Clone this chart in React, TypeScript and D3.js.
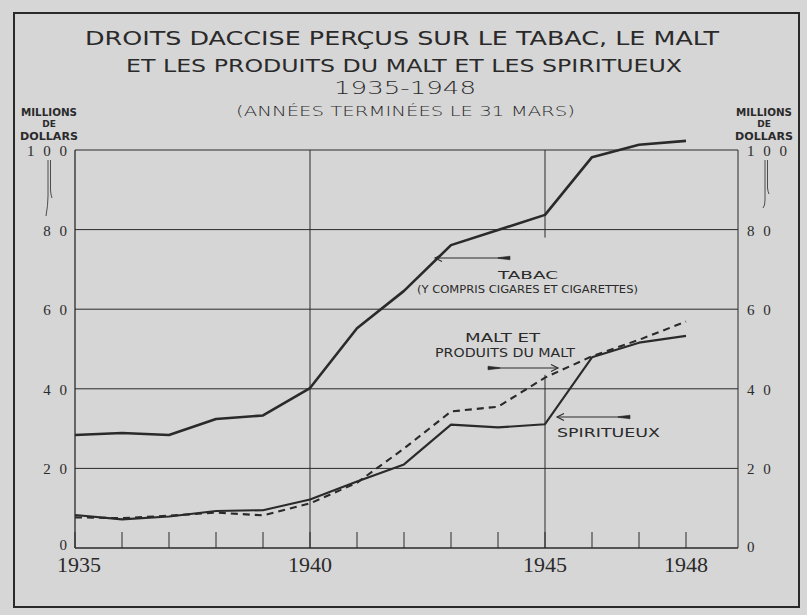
import React from "react";
import * as d3 from "d3";

// values (millions of dollars, years ended 31 March)
const years = [1935, 1936, 1937, 1938, 1939, 1940, 1941, 1942, 1943, 1944, 1945, 1946, 1947, 1948];
const tabac = [28.4, 28.9, 28.4, 32.4, 33.3, 40.2, 55.2, 64.6, 76.1, 79.9, 83.7, 98.2, 101.3, 102.3];
const malt = [7.7, 7.5, 8.1, 8.9, 8.2, 11.2, 16.4, 25.0, 34.3, 35.5, 42.8, 48.2, 52.3, 56.9];
const spiritueux = [8.3, 7.2, 7.9, 9.3, 9.5, 12.2, 16.7, 21.0, 31.0, 30.3, 31.1, 47.9, 51.6, 53.3];
const yTicks = [0, 20, 40, 60, 80, 100];
const yTickLabels = ["0", "2 0", "4 0", "6 0", "8 0", "1 0 0"];
const yearLabels = [1935, 1940, 1945, 1948];
const gridYears = [1940, 1945];

const W = 807;
const H = 615;
const INK = "#2a2a2a";
const BG = "#d6d6d6";
const SANS = "'DejaVu Sans', sans-serif";
const SERIF = "'Liberation Serif', 'DejaVu Serif', serif";

const x = d3.scaleLinear().domain([1935, 1948]).range([75, 686]);
const y = d3.scaleLinear().domain([0, 100]).range([548, 150]);
const plotRight = 738;

const line = d3
  .line<number>()
  .x((_, i) => x(years[i]))
  .y((d) => y(d));

// little arrow used for the hand-lettered labels: tip, chevron head and a tapered tail
function Arrow({ x1, x2, yy, dir }: { x1: number; x2: number; yy: number; dir: number }) {
  const tip = dir < 0 ? x1 : x2;
  const tail = dir < 0 ? x2 : x1;
  const back = dir < 0 ? 1 : -1;
  return (
    <g stroke={INK} fill={INK}>
      <line x1={x1} x2={x2} y1={yy} y2={yy} strokeWidth={1.1} />
      <path
        d={`M${tip + back * 7},${yy - 3.5} L${tip},${yy} L${tip + back * 7},${yy + 3.5}`}
        fill="none"
        strokeWidth={1.1}
      />
      <path
        d={`M${tail},${yy - 1.8} L${tail - back * 12},${yy - 0.3} L${tail - back * 12},${yy + 0.3} L${tail},${yy + 1.8} Z`}
        strokeWidth={0.6}
      />
    </g>
  );
}

export default function App() {
  return (
    <svg
      width={W}
      height={H}
      style={{ position: "absolute", left: 0, top: 0, background: BG }}
    >
      <rect x={0} y={0} width={W} height={H} fill={BG} />
      {/* outer frame */}
      <rect x={14} y={13} width={785} height={594} fill="none" stroke={INK} strokeWidth={2} />

      {/* titles */}
      <g fill={INK} fontFamily={SANS}>
        <text x={85} y={45} fontSize={20} textLength={634} lengthAdjust="spacingAndGlyphs">
          DROITS DACCISE PERÇUS SUR LE TABAC, LE MALT
        </text>
        <text x={126} y={72} fontSize={17} textLength={556} lengthAdjust="spacingAndGlyphs">
          ET LES PRODUITS DU MALT ET LES SPIRITUEUX
        </text>
        <text x={334} y={94} fontSize={17} fontWeight={200} textLength={142} lengthAdjust="spacingAndGlyphs">
          1935-1948
        </text>
        <text x={236} y={116} fontSize={14} fontWeight={200} textLength={339} lengthAdjust="spacingAndGlyphs">
          (ANNÉES TERMINÉES LE 31 MARS)
        </text>
      </g>

      {/* unit labels */}
      {[49, 764].map((cx) => (
        <g key={cx} fill={INK} fontFamily={SANS} fontWeight="bold" textAnchor="middle">
          <text x={cx} y={116} fontSize={10} textLength={56} lengthAdjust="spacingAndGlyphs">MILLIONS</text>
          <text x={cx} y={127} fontSize={9}>DE</text>
          <text x={cx} y={140} fontSize={10} textLength={58} lengthAdjust="spacingAndGlyphs">DOLLARS</text>
        </g>
      ))}
      {/* ditto-like strokes under the 100 labels */}
      <g stroke={INK} strokeWidth={0.8} fill="none">
        <path d="M48,160 L48,196 Q48,205 46,216" />
        <path d="M50.5,160 L50.5,190 Q51,196 52,198" />
        <path d="M765,160 L765,200 Q765,206 763,208" />
        <path d="M767.5,160 L767.5,188 Q768,192 769,194" />
      </g>

      {/* grid */}
      <g stroke={INK} strokeWidth={1}>
        {yTicks.map((t) => (
          <line key={t} x1={x(1935)} x2={plotRight} y1={y(t)} y2={y(t)} strokeWidth={t === 0 ? 1.3 : 1} />
        ))}
        <line x1={x(1935)} x2={x(1935)} y1={y(100)} y2={y(0)} strokeWidth={1.3} />
        <line x1={plotRight} x2={plotRight} y1={y(100)} y2={y(0)} />
        <line x1={x(gridYears[0])} x2={x(gridYears[0])} y1={y(100)} y2={y(0)} />
        <line x1={x(gridYears[1])} x2={x(gridYears[1])} y1={y(100)} y2={y(78)} />
        <line x1={x(gridYears[1])} x2={x(gridYears[1])} y1={y(43.5)} y2={y(0)} />
        {years.map((yr) => (
          <line key={yr} x1={x(yr)} x2={x(yr)} y1={y(0)} y2={y(0) - 16} />
        ))}
      </g>

      {/* axis labels */}
      <g fill={INK} fontFamily={SERIF} fontSize={15} letterSpacing={2.5} dominantBaseline="central">
        {yTicks.map((t, i) => (
          <text key={"l" + t} x={69.5} y={y(t) + (t === 0 ? -3 : 1)} textAnchor="end">{yTickLabels[i]}</text>
        ))}
        {yTicks.map((t, i) => (
          <text key={"r" + t} x={747} y={y(t) + (t === 0 ? -1 : 1)} textAnchor="start">{yTickLabels[i]}</text>
        ))}
      </g>
      <g fill={INK} fontFamily={SERIF} fontSize={22} textAnchor="middle">
        {yearLabels.map((yr) => (
          <text key={yr} x={x(yr) + (yr === 1935 ? 4 : 0)} y={572} textLength={44} lengthAdjust="spacingAndGlyphs">
            {yr}
          </text>
        ))}
      </g>

      {/* series */}
      <path d={line(tabac) || ""} fill="none" stroke={INK} strokeWidth={2.6} strokeLinejoin="round" />
      <path d={line(spiritueux) || ""} fill="none" stroke={INK} strokeWidth={2.1} strokeLinejoin="round" />
      <path d={line(malt) || ""} fill="none" stroke={INK} strokeWidth={2.1} strokeDasharray="7 5" />

      {/* series labels */}
      <g fill={INK} fontFamily={SANS}>
        <text x={498} y={279} fontSize={11} textLength={60} lengthAdjust="spacingAndGlyphs">TABAC</text>
        <text x={417} y={293} fontSize={10} textLength={221} lengthAdjust="spacingAndGlyphs">
          (Y COMPRIS CIGARES ET CIGARETTES)
        </text>
        <text x={465} y={342} fontSize={13} textLength={75} lengthAdjust="spacingAndGlyphs">MALT ET</text>
        <text x={435} y={357} fontSize={13} textLength={140} lengthAdjust="spacingAndGlyphs">PRODUITS DU MALT</text>
        <text x={557} y={437} fontSize={13} textLength={103} lengthAdjust="spacingAndGlyphs">SPIRITUEUX</text>
      </g>
      <Arrow x1={435} x2={510} yy={258} dir={-1} />
      <Arrow x1={488} x2={558} yy={368} dir={1} />
      <Arrow x1={557} x2={630} yy={417} dir={-1} />
    </svg>
  );
}
